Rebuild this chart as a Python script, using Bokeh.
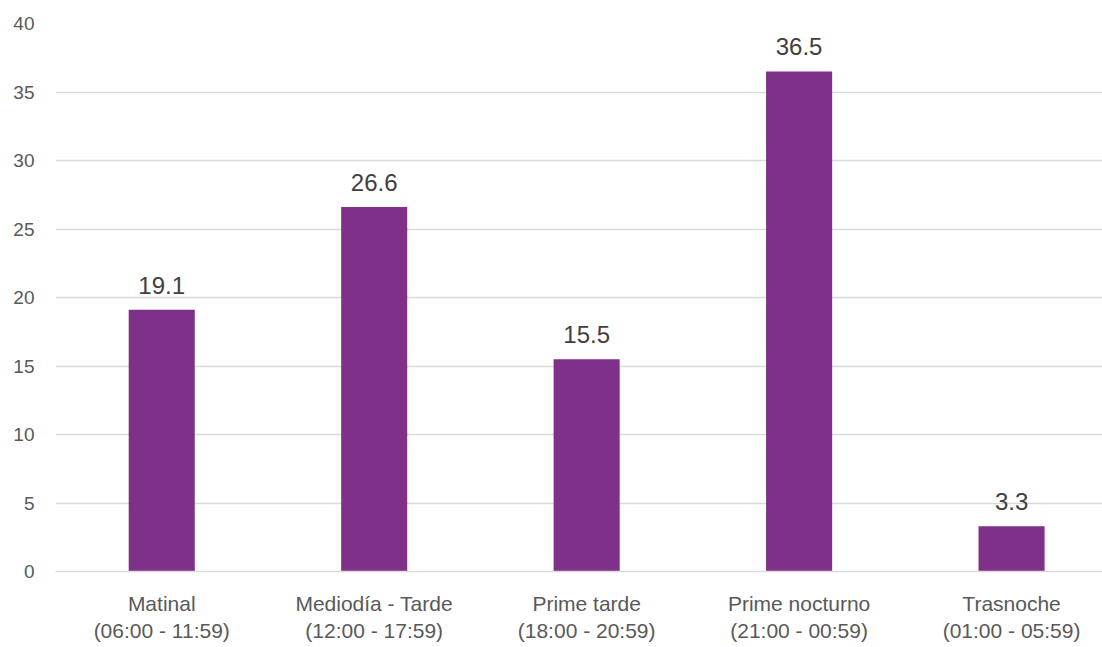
from bokeh.plotting import figure
from bokeh.models import Range1d, ColumnDataSource, FixedTicker
from bokeh.core.properties import value
from bokeh.embed import file_html
from bokeh.resources import INLINE

categories = ["Matinal\n(06:00 - 11:59)", "Mediodía - Tarde\n(12:00 - 17:59)",
              "Prime tarde\n(18:00 - 20:59)", "Prime nocturno\n(21:00 - 00:59)",
              "Trasnoche\n(01:00 - 05:59)"]
values = [19.1, 26.6, 15.5, 36.5, 3.3]
y_ticks = [0, 5, 10, 15, 20, 25, 30, 35, 40]

FONT = "'Liberation Sans Narrow', 'Arial Narrow', 'Liberation Sans', sans-serif"
BAR = "#7F3189"

xs = list(range(len(categories)))
src = ColumnDataSource(dict(x=xs, top=values, label=[f"{v:.1f}" for v in values]))

p = figure(width=1102, height=647, output_backend="svg", toolbar_location=None,
           x_range=Range1d(-0.5, 4.428), y_range=Range1d(0, 40),
           min_border_left=55, min_border_right=0, min_border_top=23, min_border_bottom=76)
p.outline_line_color = None
p.background_fill_color = "white"

p.vbar(x="x", top="top", width=0.311, bottom=0, source=src, fill_color=BAR, line_color=None)
p.text(x="x", y="top", text="label", source=src, text_align="center", text_baseline="bottom",
       y_offset=-16, text_font=value(FONT), text_font_size="24px", text_color="#404040")

p.xgrid.grid_line_color = None
p.ygrid.grid_line_color = "#d9d9d9"
p.ygrid.grid_line_width = 1.5
p.ygrid.ticker = FixedTicker(ticks=y_ticks)

yax = p.yaxis[0]
yax.ticker = FixedTicker(ticks=y_ticks)
yax.axis_line_color = None
yax.major_tick_line_color = None
yax.minor_tick_line_color = None
yax.major_tick_in = 0
yax.major_tick_out = 0
yax.major_label_standoff = 21
yax.major_label_text_font = FONT
yax.major_label_text_font_size = "19px"
yax.major_label_text_color = "#595959"

xax = p.xaxis[0]
xax.ticker = FixedTicker(ticks=xs)
xax.major_label_overrides = {i: c for i, c in enumerate(categories)}
xax.axis_line_color = "#d9d9d9"
xax.axis_line_width = 1.5
xax.major_tick_line_color = None
xax.minor_tick_line_color = None
xax.major_tick_in = 0
xax.major_tick_out = 0
xax.major_label_standoff = 20
xax.major_label_text_font = FONT
xax.major_label_text_font_size = "21px"
xax.major_label_text_color = "#595959"

open("out.html", "w").write(file_html(p, INLINE))
